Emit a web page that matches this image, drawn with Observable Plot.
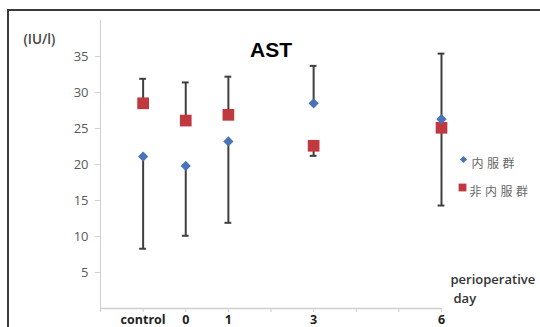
<!DOCTYPE html>
<html><head><meta charset="utf-8">
<script src="https://cdn.jsdelivr.net/npm/d3@7"></script>
<script src="https://cdn.jsdelivr.net/npm/@observablehq/plot@0.6"></script>
<style>
body{margin:0;background:#fff}
#c{position:relative;width:540px;height:327px;overflow:hidden;background:#fff}
#frame{position:absolute;left:7px;top:9px;width:700px;height:500px;border-top:2px solid #3a3a3a;border-left:2px solid #3a3a3a;pointer-events:none}
</style>
</head><body><div id="c"><div id="frame"></div></div>
<script>
// perioperative day (control plotted at -1)
const days = [-1, 0, 1, 3, 6];
const dayLabels = ["control", "0", "1", "3", "6"];
const xTickMarks = [-2, -1, 0, 1, 2, 3, 4, 5, 6];
const yTicks = [5, 10, 15, 20, 25, 30, 35];
const seriesNames = ["内服群", "非内服群"];
// 内服群 (oral) mean and error-bar end
const oralMean = [21.1, 19.8, 23.2, 28.5, 26.3];
const oralErrEnd = [8.3, 10.1, 11.9, 33.7, 35.4];
// 非内服群 (non-oral) mean and error-bar end
const nonOralMean = [28.5, 26.1, 26.9, 22.6, 25.1];
const nonOralErrEnd = [31.9, 31.4, 32.2, 21.2, 14.3];

const blue = "#4a72b8", red = "#c0393f", barColor = "#3f3f3f";
const oral = days.map((d, i) => ({day: d, mean: oralMean[i], end: oralErrEnd[i]}));
const nonOral = days.map((d, i) => ({day: d, mean: nonOralMean[i], end: nonOralErrEnd[i]}));
const bars = [...oral, ...nonOral];
const capHalf = 0.08;
const labelOf = new Map(days.map((d, i) => [d, dayLabels[i]]));
const font = "Open Sans, Lato, sans-serif";
const cjk = "Noto Sans CJK JP, sans-serif";

const chart = Plot.plot({
  width: 540, height: 327,
  marginLeft: 100, marginRight: 99, marginTop: 20, marginBottom: 19,
  style: {fontFamily: font, background: "transparent"},
  x: {domain: [-2, 6], axis: null},
  y: {domain: [0, 40], axis: null},
  marks: [
    Plot.ruleX([-2], {stroke: "#cfcfcf", strokeWidth: 1}),
    Plot.ruleY([0], {stroke: "#cfcfcf", strokeWidth: 1.5}),
    Plot.axisY({ticks: yTicks, tickSize: 5, tickPadding: 7, label: null, stroke: "#cfcfcf", fill: "#595959", fontSize: 13, tickFormat: d => d}),
    Plot.axisX({ticks: xTickMarks, tickSize: 4, label: null, tickFormat: () => "", stroke: "#cfcfcf"}),
    Plot.axisX({ticks: days, tickSize: 0, tickPadding: 7, label: null, tickFormat: d => labelOf.get(d), fill: "#222", fontSize: 12.5, fontWeight: "bold"}),
    // error bars
    Plot.ruleX(bars, {x: "day", y1: "mean", y2: "end", stroke: barColor, strokeWidth: 2}),
    Plot.ruleY(bars, {y: "end", x1: d => d.day - capHalf, x2: d => d.day + capHalf, stroke: barColor, strokeWidth: 2}),
    // points
    Plot.dot(nonOral, {x: "day", y: "mean", symbol: "square", r: 6.6, fill: red}),
    Plot.dot(oral, {x: "day", y: "mean", symbol: "diamond2", r: 4.6, fill: blue}),
    // title and labels
    Plot.text(["AST"], {frameAnchor: "top", dx: 0, dy: 22, fontSize: 21, fontWeight: "bold", fill: "#000", fontFamily: "Liberation Sans, Arial, sans-serif"}),
    Plot.text(["(IU/l)"], {frameAnchor: "top-left", textAnchor: "start", dx: -77, dy: 14, fontSize: 13.5, fontWeight: 600, fill: "#444"}),
    Plot.text(["perioperative"], {frameAnchor: "bottom-right", textAnchor: "start", dx: 9, dy: -25, fontSize: 13, fontWeight: 600, fill: "#333"}),
    Plot.text(["day"], {frameAnchor: "bottom-right", textAnchor: "start", dx: 12, dy: -6, fontSize: 13, fontWeight: 600, fill: "#333"}),
    // legend
    Plot.dot([seriesNames[0]], {frameAnchor: "top-right", dx: 22, dy: 139, symbol: "diamond2", r: 3.2, fill: blue}),
    Plot.text([seriesNames[0]], {frameAnchor: "top-right", textAnchor: "start", dx: 30, dy: 139, fontSize: 12, fill: "#666", fontFamily: cjk}),
    Plot.dot([seriesNames[1]], {frameAnchor: "top-right", dx: 21, dy: 167, symbol: "square", r: 4.4, fill: red}),
    Plot.text([seriesNames[1]], {frameAnchor: "top-right", textAnchor: "start", dx: 28, dy: 167, fontSize: 12, fill: "#666", fontFamily: cjk})
  ]
});
// widen legend glyph spacing like the reference
d3.select(chart).selectAll("text").filter(function() { return seriesNames.includes(this.textContent); })
  .style("letter-spacing", "3.5px");
document.getElementById("c").prepend(chart);
</script>
</body></html>
